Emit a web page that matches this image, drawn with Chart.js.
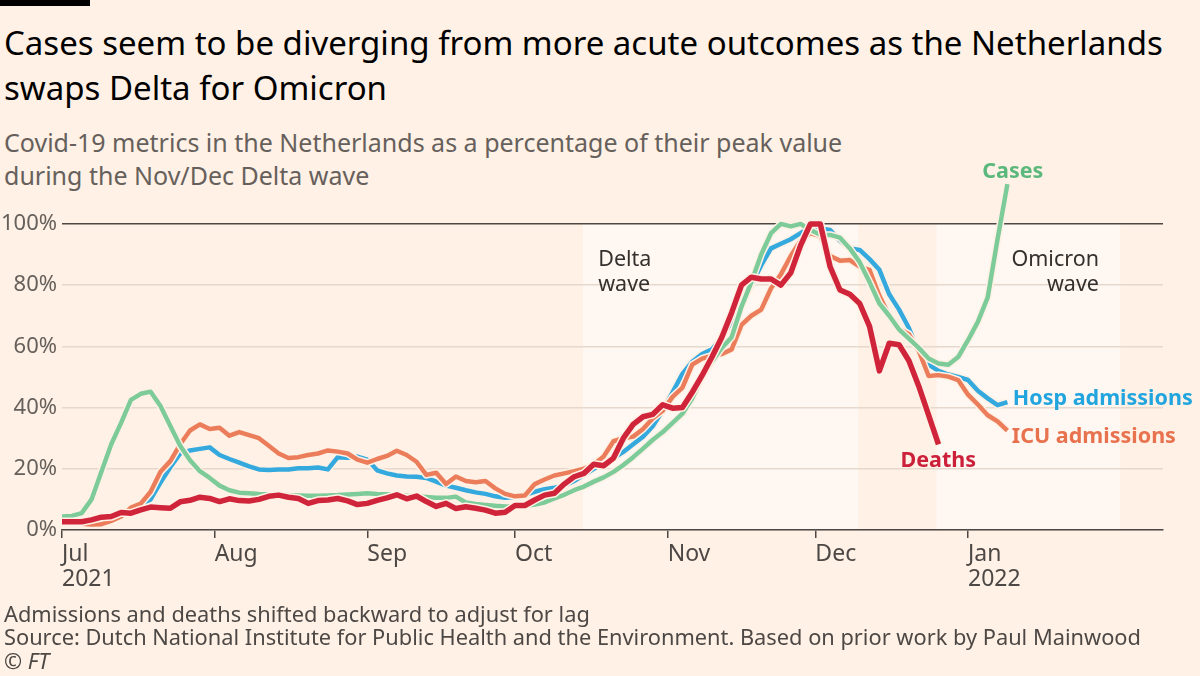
<!DOCTYPE html>
<html lang="en">
<head>
    <meta charset="UTF-8">
    <meta name="viewport" content="width=device-width, initial-scale=1.0">
    <title>Netherlands Covid-19 metrics</title>
    <script src="https://cdn.jsdelivr.net/npm/chart.js"></script>
    <style>
        body {
            margin: 0;
            background: #fff1e5;
            font-family: "Noto Sans", sans-serif;
            color: #33302e;
        }
        .page {
            position: relative;
            width: 1200px;
            height: 676px;
            overflow: hidden;
        }
        .bar {
            position: absolute;
            left: 0;
            top: 0;
            width: 90px;
            height: 6px;
            background: #000;
        }
        h1 {
            position: absolute;
            left: 4px;
            top: 20px;
            margin: 0;
            font-size: 33px;
            font-weight: normal;
            line-height: 45px;
            color: #000;
            white-space: nowrap;
        }
        .sub {
            position: absolute;
            left: 4px;
            top: 126px;
            font-size: 25px;
            line-height: 33px;
            color: #66605c;
            white-space: nowrap;
        }
        #chart {
            position: absolute;
            left: 0;
            top: 170px;
        }
        .foot {
            position: absolute;
            left: 4px;
            top: 602px;
            font-size: 21.8px;
            line-height: 23.3px;
            color: #4d4845;
            white-space: nowrap;
        }
        .note {
            position: absolute;
            font-size: 21.5px;
            line-height: 25px;
            white-space: nowrap;
        }
    </style>
</head>
<body>
<div class="page" id="page">
    <div class="bar"></div>
    <h1>Cases seem to be diverging from more acute outcomes as the Netherlands<br>swaps Delta for Omicron</h1>
    <div class="sub">Covid-19 metrics in the Netherlands as a percentage of their peak value<br>during the Nov/Dec Delta wave</div>
    <canvas id="chart" width="1200" height="430"></canvas>
    <div class="foot">Admissions and deaths shifted backward to adjust for lag<br>Source: Dutch National Institute for Public Health and the Environment. Based on prior work by Paul Mainwood<br>© <i>FT</i></div>
</div>

<script>
    // days since 1 Jul 2021
    const days = [0, 2, 4, 6, 8, 10, 12, 14, 16, 18, 20, 22, 24, 26, 28, 30, 32, 34, 36, 38,
        40, 42, 44, 46, 48, 50, 52, 54, 56, 58, 60, 62, 64, 66, 68, 70, 72, 74, 76, 78,
        80, 82, 84, 86, 88, 90, 92, 94, 96, 98, 100, 102, 104, 106, 108, 110, 112, 114, 116, 118,
        120, 122, 124, 126, 128, 130, 132, 134, 136, 138, 140, 142, 144, 146, 148, 150, 152, 154, 156, 158,
        160, 162, 164, 166, 168, 170, 172, 174, 176, 178, 180, 182, 184, 186, 188, 190, 192];

    // % of Nov/Dec peak
    const cases = [4.4, 4.6, 5.5, 10, 19, 28, 35, 42.5, 44.5, 45.2, 40.5, 34, 27.5, 22.8, 19.2, 17, 14.5, 13, 12.2, 12,
        11.8, 11.7, 11.6, 11.4, 11.3, 11.2, 11.2, 11.3, 11.4, 11.6, 11.8, 12, 11.8, 11.7, 11.5, 11.2, 11, 10.8, 10.5, 10.5,
        10.9, 9, 8.5, 8.2, 7.9, 7.7, 7.7, 7.9, 8.3, 9, 10.3, 11.5, 13, 14.2, 15.8, 17.2, 19, 21.2, 23.8, 26.6,
        29.5, 32, 35, 38, 43, 50, 55, 59.5, 63, 73, 81, 90, 97, 100, 99.2, 100, 98, 96.5, 96.4, 95.5,
        92, 87.5, 81, 74, 70, 65.5, 62.5, 59.5, 56, 54.4, 54, 56.5, 62, 68, 76, 95, 113];

    const hosp = [2.5, 2.5, 2.2, 2.2, 2.8, 4, 5.5, 7.5, 8.5, 10, 15.5, 20.5, 25, 26, 26.5, 27, 24.5, 23.2, 22, 20.8,
        19.8, 19.6, 19.8, 19.8, 20.2, 20.2, 20.4, 19.8, 23.8, 23.6, 24, 23, 19.5, 18.5, 17.8, 17.5, 17.4, 17, 15.8, 14.5,
        13.8, 13, 12.3, 11.8, 11, 10.5, 10.8, 11.5, 12.5, 13.3, 13.8, 14.5, 16, 18, 20, 22, 23.5, 25.5, 28, 30.5,
        34, 39, 45, 51, 55, 57.5, 59, 63, 68, 74, 80, 86.5, 92, 93.5, 95, 97, 99, 98.5, 98, 94.5,
        92, 91.5, 88.5, 85, 77, 72, 66, 58, 54, 52, 50.8, 50, 49, 45.5, 43, 40.8, 41.8];

    const icu = [2.8, 2.5, 2, 1.8, 1.9, 3, 4.4, 7.3, 8.6, 12.5, 19, 22.5, 28, 32.5, 34.5, 33, 33.4, 30.8, 32, 31,
        30, 27.5, 25, 23.5, 23.8, 24.5, 25, 26, 25.6, 25, 23, 22, 23.2, 24.2, 25.9, 24.5, 22.3, 18, 18.7, 15,
        17.5, 16, 15.6, 16, 13.6, 11.8, 11, 11.3, 15, 16.5, 17.8, 18.5, 19.2, 20, 21.5, 24, 29, 30, 30.5, 33,
        36.5, 39, 43.5, 46.5, 54, 56, 57, 57.5, 59, 67, 70, 72, 79, 83.5, 89.5, 94.5, 97, 96, 89.5, 88,
        88.2, 86, 85, 76.5, 70, 65.8, 64, 58.5, 50.3, 50.6, 50.1, 49, 44.2, 41, 37.5, 35.5, 32.5];

    const deaths = [2.7, 2.7, 2.7, 3.3, 4.2, 4.4, 5.7, 5.5, 6.6, 7.5, 7.3, 7.1, 9.2, 9.7, 10.7, 10.3, 9.3, 10.2, 9.6, 9.5,
        10, 11, 11.4, 10.7, 10.3, 8.7, 9.6, 9.8, 10.3, 9.5, 8.3, 8.7, 9.7, 10.5, 11.5, 10.2, 11.1, 9.3, 7.7, 8.7,
        7, 7.6, 7.1, 6.5, 5.5, 5.8, 8, 8, 9.8, 11.4, 12, 15, 17.4, 18.5, 21.5, 21, 23.5, 30, 34.5, 37,
        37.8, 40.9, 39.8, 40, 45, 50.5, 56.5, 63, 71, 80, 82.6, 82, 82, 80, 84, 93, 100, 100, 86, 78.4,
        77, 74, 66.5, 52, 61, 60.5, 55.3, 47, 37.5, 28, null, null, null, null, null, null, null];

    const monthDays = [0, 31, 62, 92, 123, 153, 184];
    const monthLabels = [['Jul', '2021'], 'Aug', 'Sep', 'Oct', 'Nov', 'Dec', ['Jan', '2022']];
    const yTicks = [0, 20, 40, 60, 80, 100];

    // shaded waves
    const bandStart = [105.8, 177.6];
    const bandEnd = [161.7, 214.9];

    const notes = [
        { lines: ['Delta', 'wave'], day: 108.9, value: 93, align: 'left', color: '#33302e', bold: false },
        { lines: ['Omicron', 'wave'], day: 210.6, value: 93, align: 'right', color: '#33302e', bold: false },
        { lines: ['Cases'], day: 193.1, value: 122, align: 'center', color: '#5ab87c', bold: true },
        { lines: ['Hosp admissions'], day: 193.1, value: 47.7, align: 'left', color: '#22a5de', bold: true },
        { lines: ['ICU admissions'], day: 192.9, value: 35.4, align: 'left', color: '#e8714e', bold: true },
        { lines: ['Deaths'], day: 170.3, value: 27.5, align: 'left', color: '#cc1f3a', bold: true }
    ];

    const bg = '#fff1e5';

    function series(values, color, width) {
        const pts = days.map((d, i) => ({ x: d, y: values[i] }));
        const common = { data: pts, pointRadius: 0, tension: 0, borderJoinStyle: 'round', fill: false, spanGaps: false };
        return [
            Object.assign({ borderColor: color, borderWidth: width }, common),
            Object.assign({ borderColor: bg, borderWidth: width + 3 }, common)
        ];
    }

    const bandsPlugin = {
        id: 'bands',
        beforeDraw(chart) {
            const { ctx, scales: { x, y } } = chart;
            ctx.save();
            ctx.fillStyle = '#fff8f2';
            for (let i = 0; i < bandStart.length; i++) {
                const x0 = x.getPixelForValue(bandStart[i]);
                const x1 = x.getPixelForValue(bandEnd[i]);
                const y0 = y.getPixelForValue(100);
                const y1 = y.getPixelForValue(0);
                ctx.fillRect(x0, y0, x1 - x0, y1 - y0);
            }
            ctx.restore();
        }
    };

    const notesPlugin = {
        id: 'notes',
        afterRender(chart) {
            const page = document.getElementById('page');
            const cx = chart.canvas.offsetLeft, cy = chart.canvas.offsetTop;
            notes.forEach((n, i) => {
                let el = document.getElementById('note' + i);
                if (!el) {
                    el = document.createElement('div');
                    el.id = 'note' + i;
                    el.className = 'note';
                    el.innerHTML = n.lines.join('<br>');
                    el.style.color = n.color;
                    el.style.fontWeight = n.bold ? 'bold' : 'normal';
                    el.style.textAlign = n.align;
                    if (n.align === 'right') el.style.transform = 'translateX(-100%)';
                    if (n.align === 'center') el.style.transform = 'translateX(-50%)';
                    page.appendChild(el);
                }
                el.style.left = (cx + chart.scales.x.getPixelForValue(n.day)) + 'px';
                el.style.top = (cy + chart.scales.y.getPixelForValue(n.value)) + 'px';
            });
        }
    };

    new Chart(document.getElementById('chart'), {
        type: 'line',
        data: {
            datasets: [
                ...series(deaths, '#d0243b', 5.5),
                ...series(cases, '#7ecb9a', 4.5),
                ...series(icu, '#eb7d5b', 4.5),
                ...series(hosp, '#33a9de', 4.5)
            ]
        },
        options: {
            responsive: false,
            animation: false,
            layout: { padding: { top: 8, right: 37, left: 0, bottom: 0 } },
            plugins: { legend: { display: false }, tooltip: { enabled: false } },
            scales: {
                x: {
                    type: 'linear',
                    min: 0,
                    max: 223.6,
                    afterFit(scale) {
                        scale.height = 70;
                        scale.paddingLeft = 0;
                        scale.paddingRight = 0;
                    },
                    afterBuildTicks(scale) { scale.ticks = monthDays.map(v => ({ value: v })); },
                    border: { color: '#4d4845', width: 1.5 },
                    grid: { drawOnChartArea: false, drawTicks: true, tickLength: 8, color: '#4d4845', lineWidth: 1.5 },
                    ticks: {
                        autoSkip: false,
                        maxRotation: 0,
                        align: 'start',
                        padding: 4,
                        color: '#4d4845',
                        font: { family: 'Noto Sans', size: 23, lineHeight: 1.09 },
                        callback: (v, i) => monthLabels[i]
                    }
                },
                y: {
                    min: 0,
                    max: 115,
                    afterFit(scale) {
                        scale.width = 62;
                        scale.paddingTop = 0;
                        scale.paddingBottom = 0;
                    },
                    afterBuildTicks(scale) { scale.ticks = yTicks.map(v => ({ value: v })); },
                    border: { display: false },
                    grid: {
                        drawTicks: false,
                        color: c => c.tick.value === 100 ? '#4d4845' : '#e6d8cc',
                        lineWidth: 1.5
                    },
                    ticks: {
                        padding: 5,
                        color: '#66605c',
                        font: { family: 'Noto Sans', size: 22 },
                        callback: v => v + '%'
                    }
                }
            }
        },
        plugins: [bandsPlugin, notesPlugin]
    });
</script>
</body>
</html>
